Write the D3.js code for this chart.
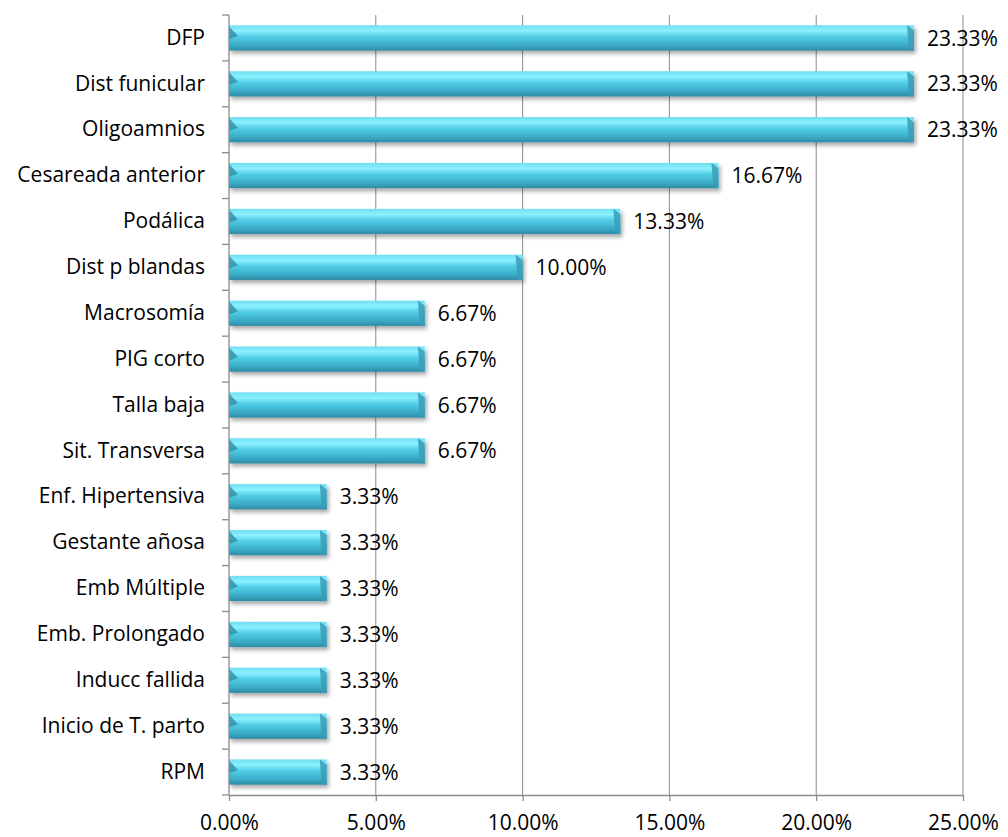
<!DOCTYPE html>
<html lang="es">
<head>
<meta charset="utf-8">
<title>Causas</title>
<style>
  body { margin: 0; background: #fff; }
  text { font-family: "Open Sans", "Liberation Sans", sans-serif; fill: #000; }
  .grid line { stroke: #8c8c8c; stroke-width: 1; }
  .axis path, .axis line { stroke: #8c8c8c; stroke-width: 1.3; }
</style>
</head>
<body>
<div id="chart"></div>
<script src="https://cdn.jsdelivr.net/npm/d3@7/dist/d3.min.js"></script>
<script>
var categories = ["DFP", "Dist funicular", "Oligoamnios", "Cesareada anterior", "Podálica",
  "Dist p blandas", "Macrosomía", "PIG corto", "Talla baja", "Sit. Transversa",
  "Enf. Hipertensiva", "Gestante añosa", "Emb Múltiple", "Emb. Prolongado",
  "Inducc fallida", "Inicio de T. parto", "RPM"];
var values = [23.33, 23.33, 23.33, 16.67, 13.33, 10.00, 6.67, 6.67, 6.67, 6.67,
  3.33, 3.33, 3.33, 3.33, 3.33, 3.33, 3.33];
var xTicks = [0, 5, 10, 15, 20, 25];

var width = 1008, height = 837;
var plotL = 229, plotR = 963, plotT = 15, plotB = 795;
var fontSize = "21px";

var svg = d3.select("#chart").append("svg")
    .attr("width", width)
    .attr("height", height);

var defs = svg.append("defs");
var grad = defs.append("linearGradient")
    .attr("id", "barGrad").attr("x1", 0).attr("y1", 0).attr("x2", 0).attr("y2", 1);
grad.append("stop").attr("offset", "0%").attr("stop-color", "#6fdff2");
grad.append("stop").attr("offset", "22%").attr("stop-color", "#8cf0ff");
grad.append("stop").attr("offset", "45%").attr("stop-color", "#52cde6");
grad.append("stop").attr("offset", "80%").attr("stop-color", "#3aaac6");
grad.append("stop").attr("offset", "100%").attr("stop-color", "#2f8aa2");

var shadow = defs.append("filter").attr("id", "shadow")
    .attr("x", "-5%").attr("y", "-30%").attr("width", "115%").attr("height", "190%");
shadow.append("feGaussianBlur").attr("in", "SourceAlpha").attr("stdDeviation", 2);
shadow.append("feOffset").attr("dx", 2).attr("dy", 3).attr("result", "b");
shadow.append("feComponentTransfer").append("feFuncA").attr("type", "linear").attr("slope", 0.35);
var merge = shadow.append("feMerge");
merge.append("feMergeNode");
merge.append("feMergeNode").attr("in", "SourceGraphic");

var x = d3.scaleLinear().domain([0, 25]).range([plotL, plotR]);
var y = d3.scaleBand().domain(categories).range([plotT, plotB]).paddingInner(0.45).paddingOuter(0.225);

// gridlines
svg.append("g").attr("class", "grid")
  .selectAll("line").data(xTicks.slice(1)).enter().append("line")
    .attr("x1", function(d) { return x(d); })
    .attr("x2", function(d) { return x(d); })
    .attr("y1", plotT)
    .attr("y2", plotB);

// bars
var bar = svg.append("g").selectAll("g").data(values).enter().append("g")
    .attr("transform", function(d, i) { return "translate(0," + y(categories[i]) + ")"; });

var bh = y.bandwidth();
bar.append("rect")
    .attr("x", plotL)
    .attr("width", function(d) { return x(d) - plotL; })
    .attr("height", bh)
    .attr("fill", "url(#barGrad)")
    .attr("filter", "url(#shadow)");

// left end wedge
bar.append("path")
    .attr("d", "M" + plotL + ",1L" + (plotL + 9) + "," + (bh * 0.42) + "L" + plotL + "," + (bh * 0.55) + "Z")
    .attr("fill", "#2e8fa8").attr("opacity", 0.8);

// right end bevel
bar.append("path")
    .attr("d", function(d) {
      var e = x(d);
      return "M" + (e - 7) + ",0L" + e + "," + (bh * 0.2) + "L" + e + "," + bh + "L" + (e - 5) + "," + bh + "Z";
    })
    .attr("fill", "#3a9cb7").attr("opacity", 0.85);

// value labels
bar.append("text")
    .attr("x", function(d) { return x(d) + 13; })
    .attr("y", bh / 2)
    .attr("dy", "0.36em")
    .style("font-size", fontSize)
    .text(function(d) { return d.toFixed(2) + "%"; });

// y axis
var yAxis = d3.axisLeft(y).tickSize(0).tickPadding(24);
var gy = svg.append("g").attr("class", "axis").attr("transform", "translate(" + plotL + ",0)").call(yAxis);
gy.select(".domain").attr("d", "M0," + plotT + "V" + plotB);
gy.selectAll("text").style("font-size", fontSize);
gy.selectAll(".bound").data(d3.range(categories.length + 1)).enter().append("line")
    .attr("x1", -7).attr("x2", 0)
    .attr("y1", function(i) { return plotT + i * y.step(); })
    .attr("y2", function(i) { return plotT + i * y.step(); });

// x axis
var xAxis = d3.axisBottom(x).tickValues(xTicks).tickSize(6).tickSizeOuter(0).tickPadding(14)
    .tickFormat(function(d) { return d.toFixed(2) + "%"; });
var gx = svg.append("g").attr("class", "axis").attr("transform", "translate(0," + plotB + ")").call(xAxis);
gx.selectAll("text").style("font-size", fontSize);
</script>
</body>
</html>
